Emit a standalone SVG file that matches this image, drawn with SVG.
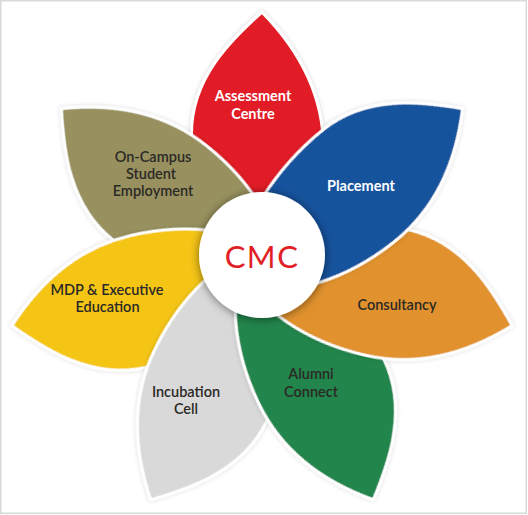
<svg xmlns="http://www.w3.org/2000/svg" width="528" height="515" viewBox="0 0 528 515">
  <defs>
    <path id="leaf" d="M0,-256.5 C-32,-228 -70.5,-190 -70.5,-135 C-70.5,-80 -50,0 -8,25 C45,5 61.5,-70 61.5,-120 C61.5,-180 30,-226 0,-256.5 Z"/>
    <filter id="circleShadow" x="-40%" y="-40%" width="180%" height="180%">
      <feDropShadow dx="0" dy="1" stdDeviation="5" flood-color="#000" flood-opacity="0.5"/>
    </filter>
    <filter id="petalShadow" x="-20%" y="-20%" width="140%" height="140%">
      <feDropShadow dx="0" dy="0" stdDeviation="2" flood-color="#000" flood-opacity="0.18"/>
    </filter>
  </defs>
  <style>
    .petal use { stroke: #ffffff; stroke-width: 3; stroke-linejoin: round; }
    .lbl { font-family: "Lato", "Liberation Sans", sans-serif; font-size: 14.5px; text-anchor: middle; }
    .light { fill: #ffffff; font-weight: 700; }
    .dark { fill: #2b2926; font-weight: 600; }
    .hub { font-family: "Lato", "Liberation Sans", sans-serif; font-size: 31px; fill: #e21e26; text-anchor: middle; letter-spacing: 1.5px; }
  </style>
  <rect x="0.75" y="0.75" width="525.5" height="512.5" fill="#ffffff" stroke="#d9d9d9" stroke-width="1.5"/>

  <g id="assessment-centre" class="petal">
    <use href="#leaf" transform="translate(262,268.6) rotate(0)" fill="#e21e26" filter="url(#petalShadow)"/>
    <text class="lbl light" x="253" y="101">Assessment</text>
    <text class="lbl light" x="253" y="119">Centre</text>
  </g>
  <g id="on-campus-student-employment" class="petal">
    <use href="#leaf" transform="translate(262,268.6) rotate(308.571)" fill="#98915f" filter="url(#petalShadow)"/>
    <text class="lbl dark" x="153" y="162">On-Campus</text>
    <text class="lbl dark" x="151" y="179">Student</text>
    <text class="lbl dark" x="153" y="195.5">Employment</text>
  </g>
  <g id="mdp-executive-education" class="petal">
    <use href="#leaf" transform="translate(262,268.6) rotate(257.143)" fill="#f5c518" filter="url(#petalShadow)"/>
    <text class="lbl dark" x="107" y="294.5">MDP &amp; Executive</text>
    <text class="lbl dark" x="107.5" y="311.5">Education</text>
  </g>
  <g id="incubation-cell" class="petal">
    <use href="#leaf" transform="translate(262,268.6) rotate(205.714)" fill="#d9d9d9" filter="url(#petalShadow)"/>
    <text class="lbl dark" x="186" y="397">Incubation</text>
    <text class="lbl dark" x="186" y="414">Cell</text>
  </g>
  <g id="alumni-connect" class="petal">
    <use href="#leaf" transform="translate(262,268.6) rotate(154.286)" fill="#23854c" filter="url(#petalShadow)"/>
    <text class="lbl dark" x="311" y="379">Alumni</text>
    <text class="lbl dark" x="311" y="397">Connect</text>
  </g>
  <g id="consultancy" class="petal">
    <use href="#leaf" transform="translate(262,268.6) rotate(102.857)" fill="#e1922e" filter="url(#petalShadow)"/>
    <text class="lbl dark" x="397" y="309.5">Consultancy</text>
  </g>
  <g id="placement" class="petal">
    <use href="#leaf" transform="translate(262,268.6) rotate(51.429)" fill="#18529d" filter="url(#petalShadow)"/>
    <text class="lbl light" x="361" y="191">Placement</text>
  </g>

  <g id="cmc">
    <circle cx="262" cy="255" r="63" fill="#ffffff" filter="url(#circleShadow)"/>
    <text class="hub" x="262" y="267.5">CMC</text>
  </g>
  <g id="connectors"/>
</svg>
